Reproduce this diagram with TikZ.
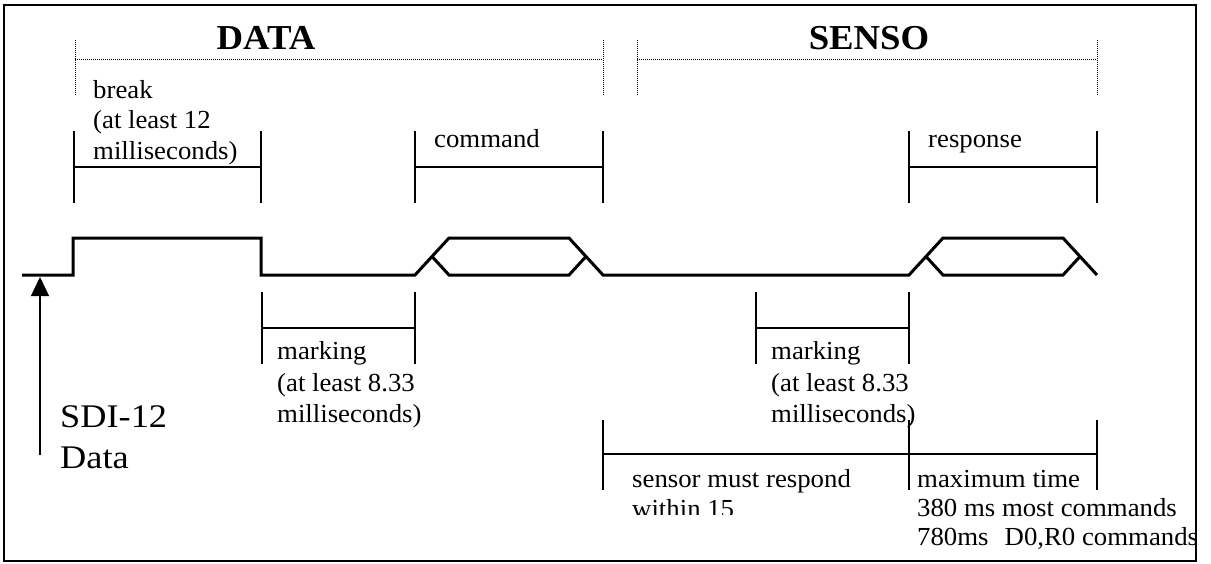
\documentclass[tikz,border=0pt]{standalone}
\usepackage{fontspec}
\setmainfont{Liberation Serif}
\usepackage{graphicx}
\usetikzlibrary{arrows.meta}
\newcommand{\hs}[1]{\scalebox{1.03}[1]{#1}}
\newcommand{\hbig}[1]{\scalebox{1.1}[1]{#1}}
\newcommand{\httl}[1]{\scalebox{1.05}[1]{#1}}
\begin{document}
\begin{tikzpicture}[x=1pt,y=-1pt,
  txt/.style={anchor=base west,inner sep=0pt,font=\fontsize{26}{30}\selectfont},
  big/.style={anchor=base west,inner sep=0pt,font=\fontsize{33}{40}\selectfont},
  title/.style={anchor=base,inner sep=0pt,font=\fontsize{35}{40}\selectfont\bfseries},
  tick/.style={line width=1.3pt},
  sig/.style={line width=3pt,line join=miter},
  dots/.style={line width=1pt,dash pattern=on 1pt off 1pt},
  frame/.style={line width=1.5pt}]
\useasboundingbox (0,0) rectangle (1211,563);
\draw[frame] (4,5) rectangle (1196,561);

% titles
\node[title] (data) at (266,49) {\httl{DATA}};
\node[title] (senso) at (869,49) {\httl{SENSO}};
\draw[dots] (75,95) -- (75,40) (75,59) -- (603,59) (603,40) -- (603,95);
\draw[dots] (637,95) -- (637,40) (637,59) -- (1097,59) (1097,40) -- (1097,95);

% upper ticks
\foreach \a/\b in {74/261, 415/603, 909/1097}{
  \draw[tick] (\a,131) -- (\a,203) (\b,131) -- (\b,203) (\a,167) -- (\b,167);
}
\node[txt] (brk1) at (93,98) {\hs{break}};
\node[txt] (brk2) at (93,128.5) {\hs{(at least 12}};
\node[txt] (brk3) at (93,159) {\hs{milliseconds)}};
\node[txt] (cmd) at (434,147) {\hs{command}};
\node[txt] (resp) at (928,147) {\hs{response}};

% signal
\draw[sig] (22,275) -- (73,275) -- (73,238) -- (261,238) -- (261,275) -- (415,275)
  -- (449,238) -- (569,238) -- (603,275) -- (909,275) -- (943,238) -- (1063,238) -- (1097,275);
\draw[sig] (432,256.5) -- (449,275) -- (569,275) -- (586,256.5);
\draw[sig] (926,256.5) -- (943,275) -- (1063,275) -- (1080,256.5);

% arrow and label
\draw[tick,-{Triangle[length=19pt,width=18pt]}] (40,455) -- (40,277);
\node[big] (sdi) at (60,427) {\hbig{SDI-12}};
\node[big] (dat) at (60,468) {\hbig{Data}};

% marking ticks
\foreach \a/\b in {262/415, 756/909}{
  \draw[tick] (\a,292) -- (\a,364) (\b,292) -- (\b,364) (\a,328) -- (\b,328);
}
\node[txt] (mk1a) at (277,359) {\hs{marking}};
\node[txt] (mk1b) at (277,391) {\hs{(at least 8.33}};
\node[txt] (mk1c) at (277,422) {\hs{milliseconds)}};
\node[txt] (mk2a) at (771,359) {\hs{marking}};
\node[txt] (mk2b) at (771,391) {\hs{(at least 8.33}};
\node[txt] (mk2c) at (771,422) {\hs{milliseconds)}};

% bottom ticks
\draw[tick] (603,420) -- (603,490) (909,420) -- (909,490) (1097,420) -- (1097,490)
  (603,454) -- (1097,454);
\node[txt] (sr1) at (632,487) {\hs{sensor must respond}};
\begin{scope}
\clip (0,0) rectangle (1211,514);
\node[txt] (sr2) at (632,517) {\hs{within 15}};
\end{scope}
\node[txt] (mt1) at (917,487) {\hs{maximum time}};
\node[txt] (mt2) at (917,516) {\hs{380 ms most commands}};
\node[txt] (mt3) at (917,545) {\hs{780ms\hspace{0.6em}D0,R0 commands}};
\end{tikzpicture}
\end{document}
